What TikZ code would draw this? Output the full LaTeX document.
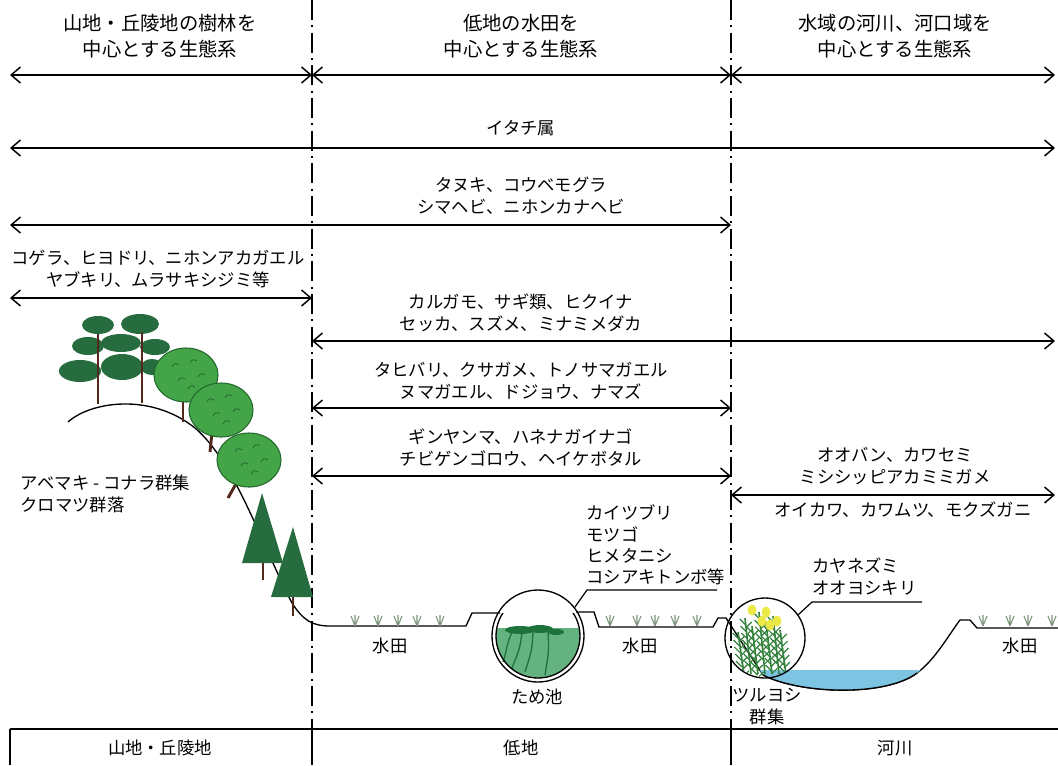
\documentclass[tikz,border=0pt]{standalone}
\usepackage{fontspec}
\setmainfont{Noto Sans CJK JP}
\usetikzlibrary{arrows.meta}

\definecolor{pinegreen}{RGB}{38,108,62}
\definecolor{leafgreen}{RGB}{68,165,72}
\definecolor{leafedge}{RGB}{35,105,45}
\definecolor{barkbrown}{RGB}{85,40,30}
\definecolor{pondgreen}{RGB}{100,178,128}
\definecolor{weedgreen}{RGB}{30,115,60}
\definecolor{riverblue}{RGB}{125,196,226}
\definecolor{reedgreen}{RGB}{50,130,60}
\definecolor{reedflower}{RGB}{236,232,70}
\definecolor{tuftgray}{RGB}{125,150,125}

\begin{document}
\begin{tikzpicture}[x=0.75pt, y=-0.75pt, line width=0.9pt,
  >={Straight Barb[length=7pt,width=12pt]},
  span/.style={<->, line width=1.1pt},
  divider/.style={line width=1pt, dash pattern=on 15pt off 4pt on 1.5pt off 4pt},
  head/.style={font=\fontsize{14.5}{19.5}\selectfont, align=center, inner sep=0pt},
  spp/.style={font=\fontsize{13}{16.5}\selectfont, align=center, inner sep=0pt},
  ground/.style={line width=1pt},
  tuft/.style={draw=tuftgray, line width=0.8pt}]
\useasboundingbox (0,0) rectangle (1058,765);

% zone dividers
\coordinate (d1n) at (312,0);
\coordinate (d1s) at (312,729);
\coordinate (d1b) at (312,765);
\coordinate (d2n) at (731,0);
\coordinate (d2s) at (731,729);
\coordinate (d2b) at (731,765);
\draw[divider] (d1n) -- (d1s);
\draw[divider] (d2n) -- (d2s);

% bottom table
\coordinate (bar-w) at (10,729);
\coordinate (bar-e) at (1058,729);
\coordinate (bar-sw) at (10,765);
\draw[line width=1.5pt] (bar-w) -- (bar-e);
\draw (bar-w) -- (bar-sw);
\draw (d1s) -- (d1b);
\draw (d2s) -- (d2b);

% habitat ranges
\foreach \n/\y/\a/\b in {mtn/75/10/312, low/75/312/731, riv/75/731/1055,
    itachi/148/10/1055, tanuki/225/10/731, kogera/298/10/312,
    karugamo/341/312/1055, tahibari/408/312/731, ginyanma/476/312/731,
    oban/495/731/1055}{
  \coordinate (\n-w) at (\a,\y);
  \coordinate (\n-e) at (\b,\y);
  \draw[span] (\n-w) -- (\n-e);
}

% headings
\node[head] (mtn) at (160,36) {山地・丘陵地の樹林を\\中心とする生態系};
\node[head] (low) at (521,36) {低地の水田を\\中心とする生態系};
\node[head] (riv) at (895,36) {水域の河川、河口域を\\中心とする生態系};

% species
\node[spp] (itachi) at (521,128) {イタチ属};
\node[spp] (tanuki) at (521,196) {タヌキ、コウベモグラ\\シマヘビ、ニホンカナヘビ};
\node[spp] (kogera) at (158,269) {コゲラ、ヒヨドリ、ニホンアカガエル\\ヤブキリ、ムラサキシジミ等};
\node[spp] (karugamo) at (521,313) {カルガモ、サギ類、ヒクイナ\\セッカ、スズメ、ミナミメダカ};
\node[spp] (tahibari) at (521,381) {タヒバリ、クサガメ、トノサマガエル\\ヌマガエル、ドジョウ、ナマズ};
\node[spp] (ginyanma) at (521,448) {ギンヤンマ、ハネナガイナゴ\\チビゲンゴロウ、ヘイケボタル};
\node[spp] (oban) at (895,466) {オオバン、カワセミ\\ミシシッピアカミミガメ};
\node[spp] (oikawa) at (903,510) {オイカワ、カワムツ、モクズガニ};

% plant communities and places
\node[spp, align=left, anchor=west] (hilllabel) at (20,494) {アベマキ\kern3pt-\kern3pt コナラ群集\\クロマツ群落};
\node[spp, align=left, anchor=west, font=\fontsize{13}{16}\selectfont] (pondlist) at (586,545) {カイツブリ\\モツゴ\\ヒメタニシ\\コシアキトンボ等};
\node[spp, align=left, anchor=west] (reedlist) at (812,577) {カヤネズミ\\オオヨシキリ};
\node[spp] (paddy1) at (390,646) {水田};
\node[spp] (paddy2) at (640,646) {水田};
\node[spp] (paddy3) at (1020,646) {水田};
\node[spp] (tameike) at (537,697) {ため池};
\node[spp] (tsuruyoshi) at (767,707) {ツルヨシ\\群集};

% bottom row
\node[spp] (mtnzone) at (160,748) {山地・丘陵地};
\node[spp] (lowzone) at (521,748) {低地};
\node[spp] (rivzone) at (895,748) {河川};

% ground profile
\draw[ground] (68,422) .. controls (90,402) and (150,392) .. (195,428)
  .. controls (235,462) and (262,545) .. (292,603)
  .. controls (303,620) and (312,626) .. (330,626) -- (466,626) -- (472,613) -- (500,613);
\draw[ground] (576,612) -- (594,612) -- (599,627) -- (713,627) -- (718,618) -- (726,618)
  -- (763,675) .. controls (800,694) and (885,697) .. (917,673)
  .. controls (935,660) and (950,633) .. (960,620) -- (970,620) -- (977,628) -- (1058,628);

% river water
\begin{scope}
  \clip (726,618) -- (763,675) .. controls (800,694) and (885,697) .. (917,673)
    .. controls (935,660) and (950,633) .. (960,620) -- cycle;
  \fill[riverblue] (700,670) rectangle (1000,700);
\end{scope}
\draw[ground] (763,675) .. controls (800,694) and (885,697) .. (917,673);

% pond
\begin{scope}
  \clip (538,636) circle[radius=42];
  \fill[pondgreen] (490,628) rectangle (590,690);
\end{scope}
\fill[weedgreen] (520,630) ellipse[x radius=15, y radius=4];
\fill[weedgreen] (540,629) ellipse[x radius=13, y radius=4];
\fill[weedgreen] (556,632) ellipse[x radius=8, y radius=3];
\draw[weedgreen, line width=1pt] (512,632) .. controls (506,645) and (506,655) .. (503,662);
\draw[weedgreen, line width=1pt] (522,632) .. controls (520,648) .. (512,668);
\draw[weedgreen, line width=1pt] (533,632) .. controls (532,650) .. (525,672);
\draw[weedgreen, line width=1pt] (548,632) .. controls (549,650) .. (545,675);
\begin{scope}
  \clip (480,613) rectangle (600,690);
  \draw[ground] (538,636) circle[radius=42];
\end{scope}
\node[circle, draw, line width=1pt, minimum size=69pt, inner sep=0pt] (pond) at (538,636) {};
\coordinate (pond-tag) at (587,590);
\coordinate (pond-tag-end) at (717,590);
\draw (pond.38) -- (pond-tag) -- (pond-tag-end);

% reed bed
\begin{scope}
  \clip (765,638) circle[radius=39];
  \foreach \sx/\top in {738/632, 745/618, 752/626, 759/612, 766/622, 773/616, 780/630}{
    \draw[reedgreen, line width=1.2pt] (\sx+6,674) -- (\sx,\top);
    \foreach \k in {1,...,7}{
      \draw[reedgreen, line width=0.9pt] (\sx+\k*0.8,\top+\k*7) -- ++(-6,-6);
      \draw[reedgreen, line width=0.9pt] (\sx+\k*0.8,\top+\k*7+3) -- ++(6,-6);
    }
  }
  \foreach \fx/\fy in {752/610, 762/621, 770/625, 777/621, 766/612}{
    \fill[reedflower] (\fx,\fy) ellipse[x radius=4.5, y radius=5.5];
  }
\end{scope}
\node[circle, draw, line width=1pt, minimum size=60pt, inner sep=0pt] (reedbed) at (765,638) {};
\coordinate (reed-tag) at (812,602);
\coordinate (reed-tag-end) at (922,602);
\draw (reedbed.35) -- (reed-tag) -- (reed-tag-end);

% rice plants
\foreach \tx in {355,378,398,417,440,610,637,655,675,697,983,1010,1028,1052}{
  \draw[tuft] (\tx,626) -- ++(-4,-10) (\tx,626) -- ++(0,-11) (\tx,626) -- ++(4,-10);
}

% black pines on the ridge
\fill[pinegreen] (98,325) ellipse[x radius=16, y radius=9];
\fill[pinegreen] (140,324) ellipse[x radius=19, y radius=10];
\fill[pinegreen] (88,346) ellipse[x radius=16, y radius=9];
\fill[pinegreen] (121,343) ellipse[x radius=20, y radius=9];
\fill[pinegreen] (155,347) ellipse[x radius=15, y radius=8];
\fill[pinegreen] (80,371) ellipse[x radius=21, y radius=11];
\fill[pinegreen] (122,367) ellipse[x radius=21, y radius=13];
\fill[pinegreen] (152,367) ellipse[x radius=11, y radius=8];
\draw[barkbrown, line width=2.2pt] (98,404) -- (98,334);
\draw[barkbrown, line width=2.2pt] (142,403) -- (142,332);

% oaks on the slope
\draw[barkbrown, line width=2.2pt] (183,398) -- (183,422);
\draw[barkbrown, line width=2.2pt] (212,432) -- (210,452);
\draw[barkbrown, line width=2.2pt] (237,482) -- (228,498);
\foreach \cx/\cy in {186/375, 221/410, 249/460}{
  \filldraw[fill=leafgreen, draw=leafedge, line width=0.8pt] (\cx,\cy) ellipse[x radius=32, y radius=27];
  \foreach \dx/\dy in {-14/-8, 4/-12, -8/6, 12/2, 2/14}{
    \draw[leafedge, line width=0.6pt] (\cx+\dx,\cy+\dy) .. controls +(2,-4) and +(-3,-2) .. ++(7,-2);
  }
}

% cedars at the foot
\draw[barkbrown, line width=2.2pt] (263,560) -- (263,580);
\fill[pinegreen] (262,493) -- (283,563) -- (242,563) -- cycle;
\draw[barkbrown, line width=2.2pt] (293,595) -- (293,616);
\fill[pinegreen] (293,527) -- (313,597) -- (271,597) -- cycle;
\end{tikzpicture}
\end{document}
